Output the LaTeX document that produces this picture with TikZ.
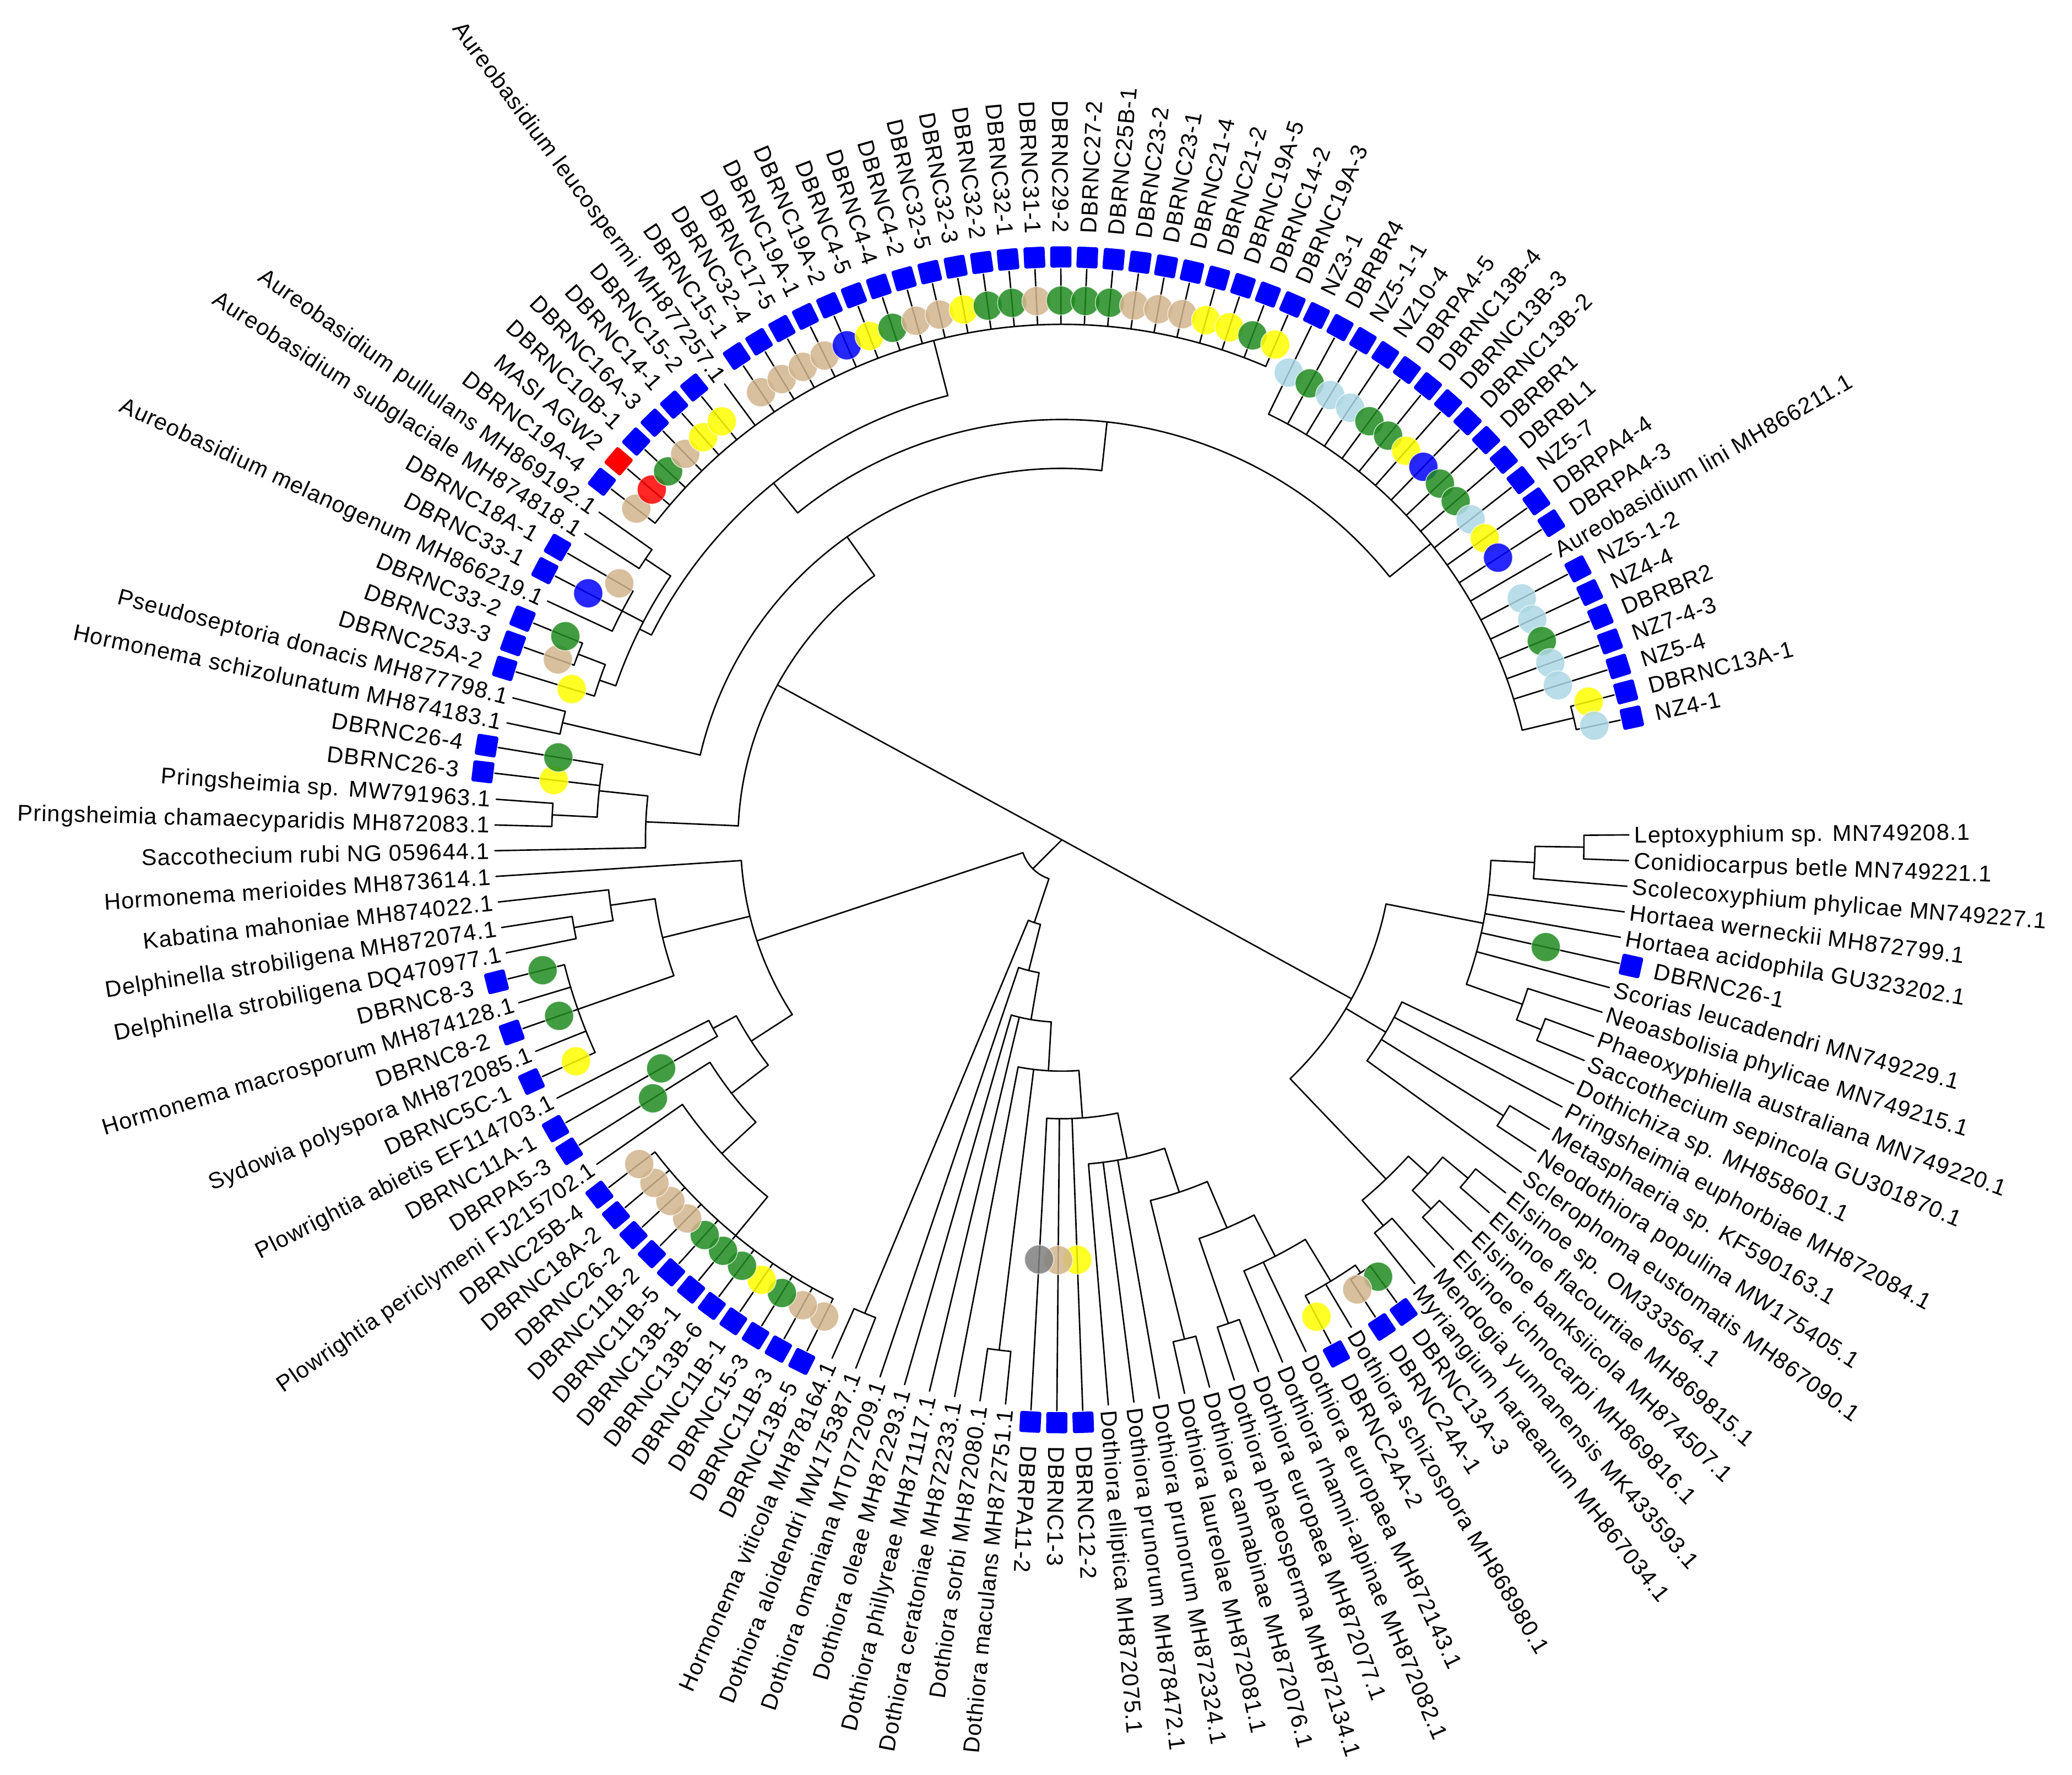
\documentclass[tikz,border=0pt]{standalone}
\usepackage{fontspec}
\setmainfont{Liberation Sans}
\newfontfamily\labfam{Liberation Sans}[LetterSpace=3]
\definecolor{cgreen}{HTML}{228B22}
\definecolor{ctan}{HTML}{D2B48C}
\definecolor{cyel}{HTML}{FFFF00}
\definecolor{clb}{HTML}{ADD8E6}
\definecolor{cgrey}{HTML}{808080}
\definecolor{cblue}{HTML}{0000FF}
\definecolor{cred}{HTML}{FF0000}
\newcommand\labfont{\labfam\fontsize{17.3}{20}\selectfont}
\tikzset{
  brn/.style={line width=1.1pt, line cap=round, black},
  lbl/.style={font=\labfont, inner sep=0pt, text height=12.4pt, text depth=0pt},
  mkdot/.style={circle, minimum size=22pt, inner sep=0pt, fill opacity=0.85, draw=white, draw opacity=0.7, line width=0.6pt},
  mksq/.style={rectangle, minimum size=16pt, inner sep=0pt, rounded corners=1.5pt}
}
\newcommand\putlab[3]{%
  \pgfmathsetmacro\pL{3.1-2.6*(#1)}%
  \pgfmathsetmacro\pLR{183.1-2.6*(#1)}%
  \ifnum#1<38\relax
    \node[lbl,anchor=west,rotate=\pL] (L#1) at (\pL:#2pt) {#3};%
  \else\ifnum#1>105\relax
    \node[lbl,anchor=west,rotate=\pL] (L#1) at (\pL:#2pt) {#3};%
  \else
    \node[lbl,anchor=east,rotate=\pLR] (L#1) at (\pL:#2pt) {#3};%
  \fi\fi}
\newcommand\plainleaf[3]{%
  \pgfmathsetmacro\pA{3.1-2.6*(#1)}%
  \draw[brn] (\pA:#2pt) -- (\pA:429pt);
  \putlab{#1}{433}{#3}}
\newcommand\isoleaf[6][cblue]{%
  \pgfmathsetmacro\pA{3.1-2.6*(#2)}%
  \draw[brn] (\pA:#3pt) -- (\pA:432pt);
  \node[mkdot,fill=#5] (C#2) at (\pA:#4pt) {};
  \node[mksq,fill=#1,rotate=\pA] (S#2) at (\pA:441pt) {};
  \putlab{#2}{459}{#6}}
\newcommand\tnode[5]{%
  \pgfmathsetmacro\pA{3.1-2.6*(#1)}%
  \pgfmathsetmacro\pB{3.1-2.6*(#4)}%
  \pgfmathsetmacro\pC{3.1-2.6*(#5)}%
  \draw[brn] (\pA:#3pt) -- (\pA:#2pt);
  \draw[brn] (\pB:#2pt) arc[start angle=\pB, end angle=\pC, radius=#2pt];}
\begin{document}
\begin{tikzpicture}[x=1pt,y=1pt]
\useasboundingbox[fill=white] (0,0) rectangle (1567.5,1342.9);
\begin{scope}[shift={(803.3,707.5)}]
\coordinate (root) at (0,0);
% ---------- internal nodes: right clade
\tnode{1.5}{395}{358}{1}{2}
\tnode{2.25}{358}{325}{1.5}{3}
\tnode{9.5}{390}{370}{9}{10}
\tnode{8.75}{370}{325}{8}{9.5}
\tnode{5.5}{325}{250}{2.25}{8.75}
\tnode{13.5}{394}{285}{13}{14}
\tnode{13}{285}{250}{11}{15}
\tnode{16.5}{400}{375}{16}{17}
\tnode{18.5}{395}{375}{18}{19}
\tnode{17.5}{375}{355}{16.5}{18.5}
\tnode{20.5}{380}{355}{20}{21}
\tnode{19}{355}{250}{17.5}{20.5}
\tnode{12.25}{250}{0}{5.5}{19}
% ---------- Dothiora / Hormonema clade
\tnode{22.5}{398}{391}{22}{23}
\tnode{23.75}{391}{354}{22.5}{25}
\tnode{25.375}{354}{319}{23.75}{27}
\tnode{28.5}{387}{319}{28}{29}
\tnode{26.94}{319}{281}{25.375}{28.5}
\tnode{30.5}{389}{281}{30}{31}
\tnode{28.72}{281}{246}{26.94}{30.5}
\tnode{31.36}{246}{211}{28.72}{34}
\tnode{34.18}{211}{175}{31.36}{37}
\tnode{38.5}{389}{175}{38}{39}
\tnode{37.09}{175}{138}{34.18}{40}
\tnode{39.55}{138}{102}{37.09}{42}
\tnode{41.27}{102}{66}{39.55}{43}
\tnode{44.5}{388}{66}{44}{45}
\tnode{42.89}{66}{31}{41.27}{44.5}
\tnode{51}{388}{350}{46}{56}
\tnode{54}{350}{315}{51}{57}
\tnode{56}{315}{280}{54}{58}
\tnode{59.5}{300}{280}{59}{60}
\tnode{57.75}{280}{243}{56}{59.5}
\tnode{63}{388}{311}{61}{65}
\tnode{66.5}{375}{345}{66}{67}
\tnode{67.25}{345}{311}{66.5}{68}
\tnode{65.125}{311}{243}{63}{67.25}
\tnode{63.375}{243}{31}{57.75}{69}
\tnode{53.13}{31}{0}{42.89}{63.375}
% ---------- Aureobasidium clade
\tnode{71.5}{386}{352}{71}{72}
\tnode{72.75}{352}{315}{71.5}{74}
\tnode{71.375}{315}{245}{70}{72.75}
\tnode{75.5}{388}{281}{75}{76}
\tnode{78.5}{392}{370}{78}{79}
\tnode{77.75}{370}{357}{77}{78.5}
\tnode{81}{375}{357}{80}{82}
\tnode{83.5}{380}{357}{83}{84}
\tnode{80.625}{357}{347}{77.75}{83.5}
\tnode{99.5}{390}{347}{85}{114}
\tnode{90.06}{347}{318}{80.625}{99.5}
\tnode{134.5}{398}{358}{134}{135}
\tnode{124.75}{358}{318}{115}{134.5}
\tnode{107.41}{318}{281}{90.06}{124.75}
\tnode{91.45}{281}{245}{75.5}{107.41}
\tnode{81.41}{245}{0}{71.375}{91.45}
% ---------- leaves
\plainleaf{1}{395}{Leptoxyphium sp. MN749208.1}
\plainleaf{2}{395}{Conidiocarpus betle MN749221.1}
\plainleaf{3}{358}{Scolecoxyphium phylicae MN749227.1}
\plainleaf{4}{325}{Hortaea werneckii MH872799.1}
\plainleaf{5}{325}{Hortaea acidophila GU323202.1}
\isoleaf{6}{325}{375}{cgreen}{DBRNC26-1}
\plainleaf{7}{325}{Scorias leucadendri MN749229.1}
\plainleaf{8}{370}{Neoasbolisia phylicae MN749215.1}
\plainleaf{9}{390}{Phaeoxyphiella australiana MN749220.1}
\plainleaf{10}{390}{Saccothecium sepincola GU301870.1}
\plainleaf{11}{285}{Dothichiza sp. MH858601.1}
\plainleaf{12}{285}{Pringsheimia euphorbiae MH872084.1}
\plainleaf{13}{394}{Metasphaeria sp. KF590163.1}
\plainleaf{14}{394}{Neodothiora populina MW175405.1}
\plainleaf{15}{285}{Sclerophoma eustomatis MH867090.1}
\plainleaf{16}{400}{Elsinoe sp. OM333564.1}
\plainleaf{17}{400}{Elsinoe flacourtiae MH869815.1}
\plainleaf{18}{395}{Elsinoe banksiicola MH874507.1}
\plainleaf{19}{395}{Elsinoe ichnocarpi MH869816.1}
\plainleaf{20}{380}{Mendogia yunnanensis MK433593.1}
\plainleaf{21}{380}{Myriangium haraeanum MH867034.1}
\isoleaf{22}{398}{408}{cgreen}{DBRNC13A-3}
\isoleaf{23}{398}{407}{ctan}{DBRNC24A-1}
\plainleaf{24}{391}{Dothiora schizospora MH868980.1}
\isoleaf{25}{391}{409}{cyel}{DBRNC24A-2}
\plainleaf{26}{354}{Dothiora europaea MH872143.1}
\plainleaf{27}{354}{Dothiora rhamni-alpinae MH872082.1}
\plainleaf{28}{387}{Dothiora europaea MH872077.1}
\plainleaf{29}{387}{Dothiora phaeosperma MH872134.1}
\plainleaf{30}{389}{Dothiora cannabinae MH872076.1}
\plainleaf{31}{389}{Dothiora laureolae MH872081.1}
\plainleaf{32}{246}{Dothiora prunorum MH872324.1}
\plainleaf{33}{246}{Dothiora prunorum MH878472.1}
\plainleaf{34}{246}{Dothiora elliptica MH872075.1}
\isoleaf{35}{211}{318}{cyel}{DBRNC12-2}
\isoleaf{36}{211}{318}{ctan}{DBRNC1-3}
\isoleaf{37}{211}{318}{cgrey}{DBRPA11-2}
\plainleaf{38}{389}{Dothiora maculans MH872751.1}
\plainleaf{39}{389}{Dothiora sorbi MH872080.1}
\plainleaf{40}{175}{Dothiora ceratoniae MH872233.1}
\plainleaf{41}{138}{Dothiora phillyreae MH871117.1}
\plainleaf{42}{138}{Dothiora oleae MH872293.1}
\plainleaf{43}{102}{Dothiora omaniana MT077209.1}
\plainleaf{44}{388}{Dothiora aloidendri MW175387.1}
\plainleaf{45}{388}{Hormonema viticola MH878164.1}
\isoleaf{46}{388}{403}{ctan}{DBRNC13B-5}
\isoleaf{47}{388}{403}{ctan}{DBRNC11B-3}
\isoleaf{48}{388}{403}{cgreen}{DBRNC15-3}
\isoleaf{49}{388}{403}{cyel}{DBRNC11B-1}
\isoleaf{50}{388}{403}{cgreen}{DBRNC13B-6}
\isoleaf{51}{388}{403}{cgreen}{DBRNC13B-1}
\isoleaf{52}{388}{403}{cgreen}{DBRNC11B-5}
\isoleaf{53}{388}{403}{ctan}{DBRNC11B-2}
\isoleaf{54}{388}{403}{ctan}{DBRNC26-2}
\isoleaf{55}{388}{403}{ctan}{DBRNC18A-2}
\isoleaf{56}{388}{403}{ctan}{DBRNC25B-4}
\plainleaf{57}{350}{Plowrightia periclymeni FJ215702.1}
\isoleaf{58}{315}{366}{cgreen}{DBRPA5-3}
\isoleaf{59}{300}{349}{cgreen}{DBRNC11A-1}
\plainleaf{60}{300}{Plowrightia abietis EF114703.1}
\isoleaf{61}{388}{404}{cyel}{DBRNC5C-1}
\plainleaf{62}{388}{Sydowia polyspora MH872085.1}
\isoleaf{63}{388}{403}{cgreen}{DBRNC8-2}
\plainleaf{64}{388}{Hormonema macrosporum MH874128.1}
\isoleaf{65}{388}{405}{cgreen}{DBRNC8-3}
\plainleaf{66}{375}{Delphinella strobiligena DQ470977.1}
\plainleaf{67}{375}{Delphinella strobiligena MH872074.1}
\plainleaf{68}{345}{Kabatina mahoniae MH874022.1}
\plainleaf{69}{243}{Hormonema merioides MH873614.1}
\plainleaf{70}{315}{Saccothecium rubi NG 059644.1}
\plainleaf{71}{386}{Pringsheimia chamaecyparidis MH872083.1}
\plainleaf{72}{386}{Pringsheimia sp. MW791963.1}
\isoleaf{73}{352}{387}{cyel}{DBRNC26-3}
\isoleaf{74}{352}{386}{cgreen}{DBRNC26-4}
\plainleaf{75}{388}{Hormonema schizolunatum MH874183.1}
\plainleaf{76}{388}{Pseudoseptoria donacis MH877798.1}
\isoleaf{77}{370}{388}{cyel}{DBRNC25A-2}
\isoleaf{78}{392}{405}{ctan}{DBRNC33-3}
\isoleaf{79}{392}{406}{cgreen}{DBRNC33-2}
\plainleaf{80}{375}{Aureobasidium melanogenum MH866219.1}
\isoleaf{81}{375}{404}{cblue}{DBRNC33-1}
\isoleaf{82}{375}{387}{ctan}{DBRNC18A-1}
\plainleaf{83}{380}{Aureobasidium subglaciale MH874818.1}
\plainleaf{84}{380}{Aureobasidium pullulans MH869192.1}
\isoleaf{85}{390}{408}{ctan}{DBRNC19A-4}
\isoleaf[cred]{86}{390}{408}{cred}{MASI AGW2}
\isoleaf{87}{390}{408}{cgreen}{DBRNC10B-1}
\isoleaf{88}{390}{408}{ctan}{DBRNC16A-3}
\isoleaf{89}{390}{408}{cyel}{DBRNC14-1}
\isoleaf{90}{390}{408}{cyel}{DBRNC15-2}
\plainleaf{91}{390}{Aureobasidium leucospermi MH877257.1}
\isoleaf{92}{390}{408}{ctan}{DBRNC15-1}
\isoleaf{93}{390}{408}{ctan}{DBRNC32-4}
\isoleaf{94}{390}{408}{ctan}{DBRNC17-5}
\isoleaf{95}{390}{408}{ctan}{DBRNC19A-1}
\isoleaf{96}{390}{408}{cblue}{DBRNC19A-2}
\isoleaf{97}{390}{408}{cyel}{DBRNC4-5}
\isoleaf{98}{390}{408}{cgreen}{DBRNC4-4}
\isoleaf{99}{390}{408}{ctan}{DBRNC4-2}
\isoleaf{100}{390}{408}{ctan}{DBRNC32-5}
\isoleaf{101}{390}{408}{cyel}{DBRNC32-3}
\isoleaf{102}{390}{408}{cgreen}{DBRNC32-2}
\isoleaf{103}{390}{408}{cgreen}{DBRNC32-1}
\isoleaf{104}{390}{408}{ctan}{DBRNC31-1}
\isoleaf{105}{390}{408}{cgreen}{DBRNC29-2}
\isoleaf{106}{390}{408}{cgreen}{DBRNC27-2}
\isoleaf{107}{390}{408}{cgreen}{DBRNC25B-1}
\isoleaf{108}{390}{408}{ctan}{DBRNC23-2}
\isoleaf{109}{390}{408}{ctan}{DBRNC23-1}
\isoleaf{110}{390}{408}{ctan}{DBRNC21-4}
\isoleaf{111}{390}{408}{cyel}{DBRNC21-2}
\isoleaf{112}{390}{408}{cyel}{DBRNC19A-5}
\isoleaf{113}{390}{408}{cgreen}{DBRNC14-2}
\isoleaf{114}{390}{408}{cyel}{DBRNC19A-3}
\isoleaf{115}{358}{393}{clb}{NZ3-1}
\isoleaf{116}{358}{393}{cgreen}{DBRBR4}
\isoleaf{117}{358}{393}{clb}{NZ5-1-1}
\isoleaf{118}{358}{393}{clb}{NZ10-4}
\isoleaf{119}{358}{393}{cgreen}{DBRPA4-5}
\isoleaf{120}{358}{393}{cgreen}{DBRNC13B-4}
\isoleaf{121}{358}{393}{cyel}{DBRNC13B-3}
\isoleaf{122}{358}{393}{cblue}{DBRNC13B-2}
\isoleaf{123}{358}{393}{cgreen}{DBRBR1}
\isoleaf{124}{358}{393}{cgreen}{DBRBL1}
\isoleaf{125}{358}{393}{clb}{NZ5-7}
\isoleaf{126}{358}{393}{cyel}{DBRPA4-4}
\isoleaf{127}{358}{393}{cblue}{DBRPA4-3}
\plainleaf{128}{358}{Aureobasidium lini MH866211.1}
\isoleaf{129}{358}{393}{clb}{NZ5-1-2}
\isoleaf{130}{358}{393}{clb}{NZ4-4}
\isoleaf{131}{358}{393}{cgreen}{DBRBR2}
\isoleaf{132}{358}{393}{clb}{NZ7-4-3}
\isoleaf{133}{358}{393}{clb}{NZ5-4}
\isoleaf{134}{398}{412}{cyel}{DBRNC13A-1}
\isoleaf{135}{398}{412}{clb}{NZ4-1}
\end{scope}
\end{tikzpicture}
\end{document}
